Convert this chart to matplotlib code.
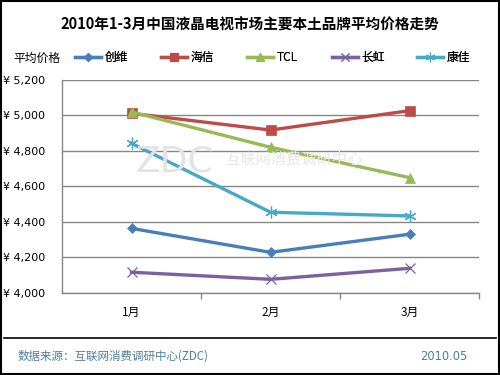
import matplotlib
matplotlib.use("Agg")
import matplotlib.pyplot as plt
from matplotlib.lines import Line2D
from matplotlib.patches import Rectangle

plt.rcParams['font.family'] = ['Noto Sans CJK SC', 'DejaVu Sans']

categories = ['1月', '2月', '3月']
series_names = ['创维', '海信', 'TCL', '长虹', '康佳']
chuangwei = [4364, 4229, 4331]
hisense = [5012, 4918, 5027]
tcl = [5020, 4821, 4650]
changhong = [4117, 4077, 4139]
konka = [4843, 4455, 4434]
series_values = [chuangwei, hisense, tcl, changhong, konka]
yticks = [4000, 4200, 4400, 4600, 4800, 5000, 5200]
ytick_labels = ['¥ 4,000', '¥ 4,200', '¥ 4,400', '¥ 4,600', '¥ 4,800', '¥ 5,000', '¥ 5,200']

colors = ['#4A7EBB', '#BE4B48', '#98B954', '#7D60A0', '#46AAC5']
markers = ['D', 's', '^', 'x', (6, 2, 0)]
msizes = [5.5, 7.5, 7.5, 7.5, 8.5]

fig = plt.figure(figsize=(5, 3.75), dpi=100)
ax = fig.add_axes([0.124, 0.2187, 0.834, 0.568])

x = list(range(len(categories)))
handles = []
for name, vals, c, m, ms in zip(series_names, series_values, colors, markers, msizes):
    h, = ax.plot(x, vals, color=c, lw=2.4, marker=m, markersize=ms,
                 markeredgecolor=c, markeredgewidth=0.9 if m in ('x', (6, 2, 0)) else 0.5,
                 label=name, zorder=3)
    handles.append(h)

ax.set_xlim(-0.5, 2.5)
ax.set_ylim(4000, 5200)
ax.set_yticks(yticks)
ax.set_yticklabels(ytick_labels, fontsize=8, family=['DejaVu Sans'])
ax.set_xticks(x)
ax.set_xticklabels(categories, fontsize=8.5)
ax.tick_params(axis='x', length=0, pad=9)
ax.tick_params(axis='y', length=0, pad=12)
ax.set_xticks([0.5, 1.5, 2.5], minor=True)
ax.tick_params(axis='x', which='minor', length=4, color='#878787', width=1)
ax.grid(axis='y', color='#878787', lw=1)
ax.set_axisbelow(True)
for s in ['top', 'right']:
    ax.spines[s].set_visible(False)
for s in ['left', 'bottom']:
    ax.spines[s].set_color('#878787')
    ax.spines[s].set_linewidth(1)

# watermark
fig.text(0.27, 0.57, 'ZDC', fontsize=26, color='#E3E3E3', family=['DejaVu Sans'],
         ha='left', va='center', zorder=0)
fig.text(0.45, 0.575, '互联网消费调研中心', fontsize=11, color='#E6E6E6',
         ha='left', va='center', zorder=0)

fig.text(0.5, 0.935, '2010年1-3月中国液晶电视市场主要本土品牌平均价格走势',
         fontsize=10.5, fontweight='bold', ha='center', va='center')
fig.text(0.026, 0.845, '平均价格', fontsize=8.5, ha='left', va='center')

leg_x = [0.150, 0.322, 0.494, 0.664, 0.834]
for h, name, lx in zip(handles, series_names, leg_x):
    lh = Line2D([], [], color=h.get_color(), lw=2.4, marker=h.get_marker(),
                markersize=h.get_markersize() * 0.8, markeredgecolor=h.get_color(),
                markeredgewidth=0.8)
    lg = fig.legend(handles=[lh], labels=[name], loc='center left',
                    bbox_to_anchor=(lx, 0.847), frameon=False, fontsize=8.5,
                    handlelength=2.2, handletextpad=0.3, borderpad=0, borderaxespad=0)
    fig.add_artist(lg)

fig.text(0.035, 0.05, '数据来源：互联网消费调研中心(ZDC)', fontsize=8.3,
         color='#4F7F9C', ha='left', va='center')
fig.text(0.935, 0.05, '2010.05', fontsize=8.3, color='#4F7F9C',
         ha='right', va='center', family=['DejaVu Sans'])

fig.add_artist(Line2D([0.008, 0.992], [0.099, 0.099], color='black', lw=1.2,
                      transform=fig.transFigure))
fig.add_artist(Rectangle((0.002, 0.003), 0.995, 0.994, fill=False, edgecolor='black',
                         lw=1.5, transform=fig.transFigure))

fig.savefig('out.png', dpi=100)
